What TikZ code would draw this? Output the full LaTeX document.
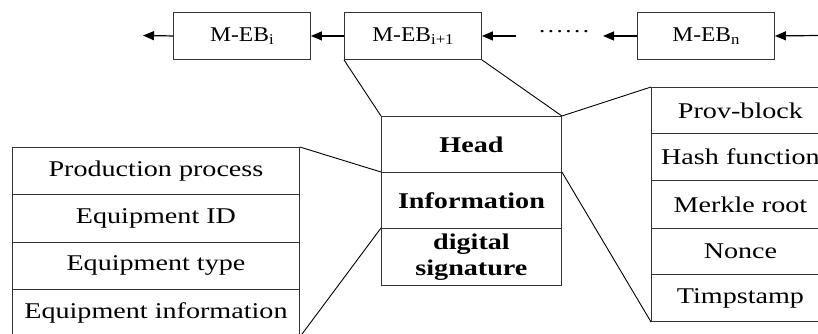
\documentclass[tikz,border=0pt]{standalone}
\usepackage{fontspec}
\setmainfont[FakeStretch=1.25]{Liberation Serif}
\newfontfamily\blkfont[FakeStretch=1.12]{Liberation Serif}
\usetikzlibrary{arrows.meta}
\newcommand{\blksub}[1]{\raisebox{-3pt}{\fontsize{15}{15}\selectfont #1}}
\tikzset{
  cell/.style={draw=black!80, line width=0.9pt, anchor=north west, inner sep=0pt,
    font=\fontsize{22.5}{26}\selectfont, align=center},
  blk/.style={cell, minimum width=137pt, minimum height=47pt, font=\fontsize{21}{24}\selectfont\blkfont},
  mid/.style={cell, minimum width=180pt, font=\fontsize{22.5}{26}\selectfont\bfseries},
  lrow/.style={cell, minimum width=287pt},
  rrow/.style={cell, minimum width=178pt},
  arr/.style={line width=1.2pt, -{Triangle[length=11pt,width=9pt]}},
  link/.style={line width=0.9pt}
}
\begin{document}
\begin{tikzpicture}[x=1pt,y=-1pt]
\clip (0,0) rectangle (818,333);

% chain of blocks
\node[blk] (mi)  at (173,12) {M-EB\blksub{i}};
\node[blk] (mi1) at (344,12) {M-EB\blksub{i+1}};
\node[blk] (mn)  at (637,12) {M-EB\blksub{n}};
\node[inner sep=0pt, font=\fontsize{20}{24}\selectfont] (dots) at (564,32)
  {.\hspace{2.5pt}.\hspace{2.5pt}.\hspace{2.5pt}.\hspace{2.5pt}.\hspace{2.5pt}.};
\coordinate (out) at (143,35.5);
\coordinate (in)  at (818,35.5);

\draw[arr] (mi.west) -- (out);
\draw[arr] (mi1.west) -- (mi.east);
\draw[arr] (mi1.east) ++(34,0) coordinate (d1) -- (mi1.east);
\draw[arr] (mn.west) -- ++(-34,0) coordinate (d2);
\draw[arr] (in) -- (mn.east);

% expanded block
\node[mid, minimum height=56pt] (head) at (381,116) {Head};
\node[mid, minimum height=56pt] (info) at (381,172) {Information};
\node[mid, minimum height=57pt] (sig)  at (381,228) {digital\\signature};

% information fields
\node[lrow, minimum height=47pt] (pp)  at (12,147) {Production process};
\node[lrow, minimum height=48pt] (eid) at (12,194) {Equipment ID};
\node[lrow, minimum height=47pt] (et)  at (12,242) {Equipment type};
\node[lrow, minimum height=47pt] (ei)  at (12,289) {Equipment information};

% head fields
\node[rrow, minimum height=46pt] (prov) at (651,87)  {Prov-block};
\node[rrow, minimum height=47pt] (hf)   at (651,133) {Hash function};
\node[rrow, minimum height=48pt] (mr)   at (651,180) {Merkle root};
\node[rrow, minimum height=46pt] (nc)   at (651,228) {Nonce};
\node[rrow, minimum height=47pt] (ts)   at (651,274) {Timpstamp};

% expansion lines
\draw[link] (mi1.south west) -- (head.north west);
\draw[link] (mi1.south east) -- (head.north east);
\draw[link] (head.north east) -- (prov.north west);
\draw[link] (info.north east) -- (ts.south west);
\draw[link] (pp.north east) -- (info.north west);
\draw[link] (ei.south east) -- (sig.north west);
\end{tikzpicture}
\end{document}
